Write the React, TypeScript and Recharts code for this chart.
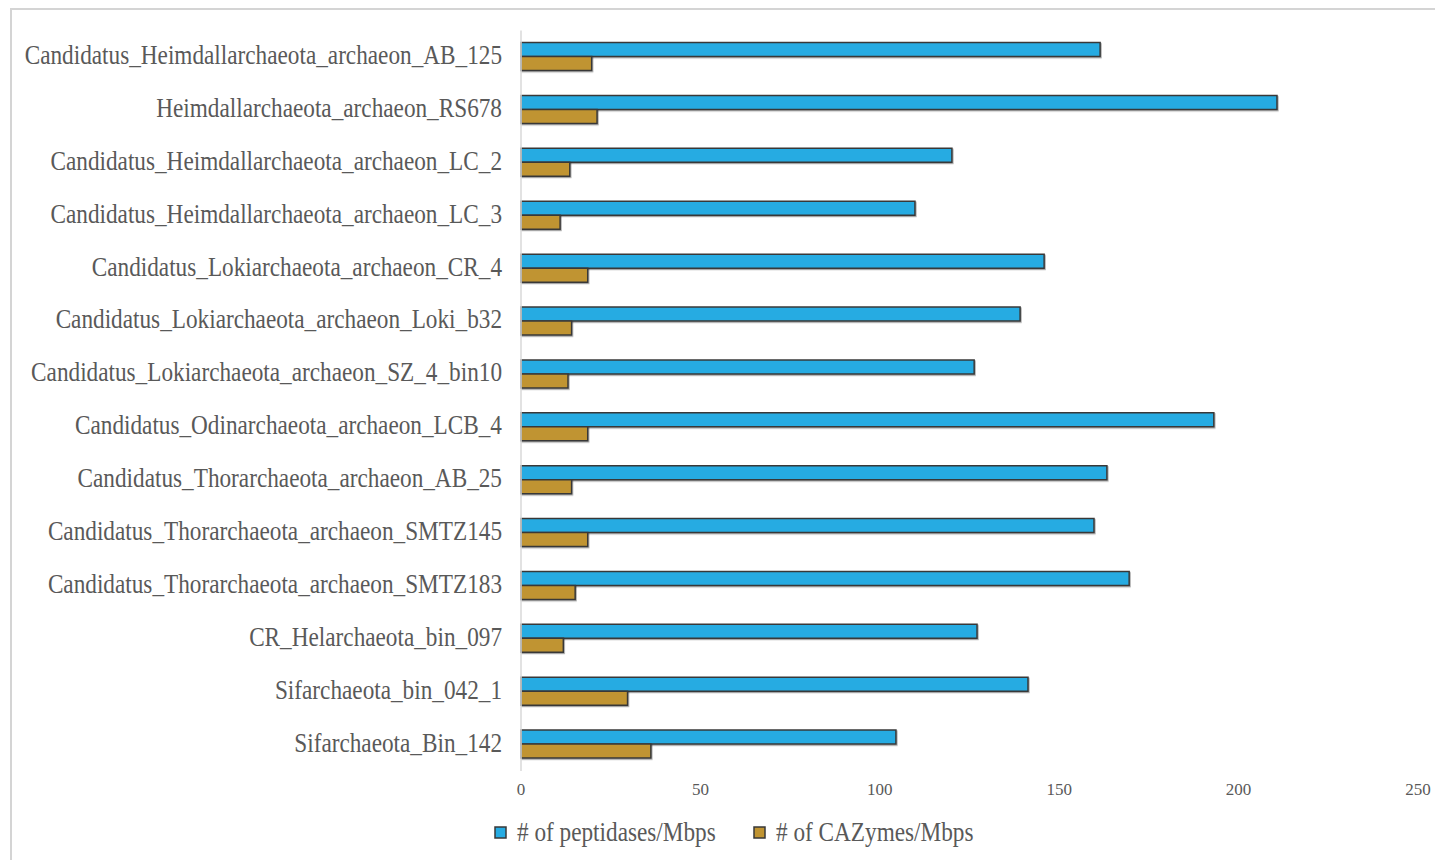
import React from 'react';
import { BarChart, Bar, XAxis, YAxis, Legend } from 'recharts';

// Asgard archaea genomes, listed top to bottom
const organisms = [
  'Candidatus_Heimdallarchaeota_archaeon_AB_125',
  'Heimdallarchaeota_archaeon_RS678',
  'Candidatus_Heimdallarchaeota_archaeon_LC_2',
  'Candidatus_Heimdallarchaeota_archaeon_LC_3',
  'Candidatus_Lokiarchaeota_archaeon_CR_4',
  'Candidatus_Lokiarchaeota_archaeon_Loki_b32',
  'Candidatus_Lokiarchaeota_archaeon_SZ_4_bin10',
  'Candidatus_Odinarchaeota_archaeon_LCB_4',
  'Candidatus_Thorarchaeota_archaeon_AB_25',
  'Candidatus_Thorarchaeota_archaeon_SMTZ145',
  'Candidatus_Thorarchaeota_archaeon_SMTZ183',
  'CR_Helarchaeota_bin_097',
  'Sifarchaeota_bin_042_1',
  'Sifarchaeota_Bin_142',
];

const peptidases = [161.4, 210.7, 120.1, 109.8, 145.8, 139.1, 126.3, 193.1, 163.3, 159.7, 169.5, 127.1, 141.3, 104.5];
const cazymes = [19.7, 21.2, 13.6, 10.9, 18.6, 14.1, 13.1, 18.6, 14.1, 18.6, 15.1, 11.8, 29.7, 36.2];

const xTicks = [0, 50, 100, 150, 200, 250];

const seriesKeys = ['peptidases', 'cazymes'];
const seriesNames = ['# of peptidases/Mbps', '# of CAZymes/Mbps'];

const data = organisms.map((name, i) => ({
  name,
  peptidases: peptidases[i],
  cazymes: cazymes[i],
}));

const BLUE = '#26ABE2';
const GOLD = '#C09432';
const EDGE = '#383838';
const TEXT = '#595959';
const SERIF = '"Liberation Serif", "Times New Roman", serif';
const SQUEEZE = 0.83;

const CategoryTick = (props: any) => {
  const { x, y, payload } = props;
  return (
    <text
      transform={`translate(${x},${y}) scale(${SQUEEZE},1)`}
      textAnchor="end"
      dy="0.25em"
      fontFamily={SERIF}
      fontSize={28}
      fill={TEXT}
    >
      {payload.value}
    </text>
  );
};

const ValueTick = (props: any) => {
  const { x, y, payload } = props;
  return (
    <text x={x} y={y + 24} textAnchor="middle" fontFamily={SERIF} fontSize={17} fill={TEXT}>
      {payload.value}
    </text>
  );
};

const legendX = [495, 754];

const LegendContent = (props: any) => {
  const items = [...(props.payload || [])].sort(
    (a: any, b: any) => seriesKeys.indexOf(a.dataKey) - seriesKeys.indexOf(b.dataKey)
  );
  return (
    <svg width={1435} height={36} style={{ display: 'block' }}>
      {items.map((item: any, i: number) => (
        <g key={item.value}>
          <rect x={legendX[i]} y={12} width={11} height={11} fill={item.color} stroke={EDGE} strokeWidth={1.5} />
          <text
            transform={`translate(${legendX[i] + 22},${17.5}) scale(${SQUEEZE},1)`}
            dy="0.3em"
            fontFamily={SERIF}
            fontSize={28}
            fill={TEXT}
          >
            {item.value}
          </text>
        </g>
      ))}
    </svg>
  );
};

export default function App() {
  return (
    <div style={{ position: 'absolute', left: 0, top: 0, width: 1435, height: 860, overflow: 'hidden', background: '#fff' }}>
      <svg width={0} height={0} style={{ position: 'absolute' }}>
        <defs>
          <filter id="barShadow" x="-5%" y="-30%" width="110%" height="170%">
            <feDropShadow dx={0.8} dy={1.2} stdDeviation={0.7} floodColor="#000" floodOpacity={0.35} />
          </filter>
        </defs>
      </svg>
      <div
        style={{
          position: 'absolute',
          left: 10,
          top: 8,
          width: 1425,
          height: 852,
          boxSizing: 'border-box',
          borderTop: '2px solid #d4d4d4',
          borderLeft: '2px solid #d4d4d4',
        }}
      />
      <div style={{ position: 'absolute', left: 0, top: 0 }}>
        <BarChart
          width={1435}
          height={860}
          data={data}
          layout="vertical"
          margin={{ top: 30.6, right: 17, bottom: 59, left: 0 }}
          barGap={0}
        >
          <XAxis
            type="number"
            domain={[0, 250]}
            ticks={xTicks}
            axisLine={false}
            tickLine={false}
            tickSize={0}
            tickMargin={0}
            height={30}
            tick={<ValueTick />}
            interval={0}
          />
          <YAxis
            type="category"
            dataKey="name"
            width={521}
            tickLine={false}
            tickSize={0}
            tickMargin={19}
            axisLine={{ stroke: '#d9d9d9', strokeWidth: 1.5 }}
            tick={<CategoryTick />}
            interval={0}
          />
          <Legend
            layout="horizontal"
            verticalAlign="middle"
            align="center"
            content={<LegendContent />}
            wrapperStyle={{ left: 0, top: 815, width: 1435, height: 36 }}
          />
          <Bar
            dataKey={seriesKeys[0]}
            name={seriesNames[0]}
            fill={BLUE}
            stroke={EDGE}
            strokeWidth={1.5}
            barSize={14}
            isAnimationActive={false}
            style={{ filter: 'url(#barShadow)' }}
          />
          <Bar
            dataKey={seriesKeys[1]}
            name={seriesNames[1]}
            fill={GOLD}
            stroke={EDGE}
            strokeWidth={1.5}
            barSize={14}
            isAnimationActive={false}
            style={{ filter: 'url(#barShadow)' }}
          />
        </BarChart>
      </div>
    </div>
  );
}
